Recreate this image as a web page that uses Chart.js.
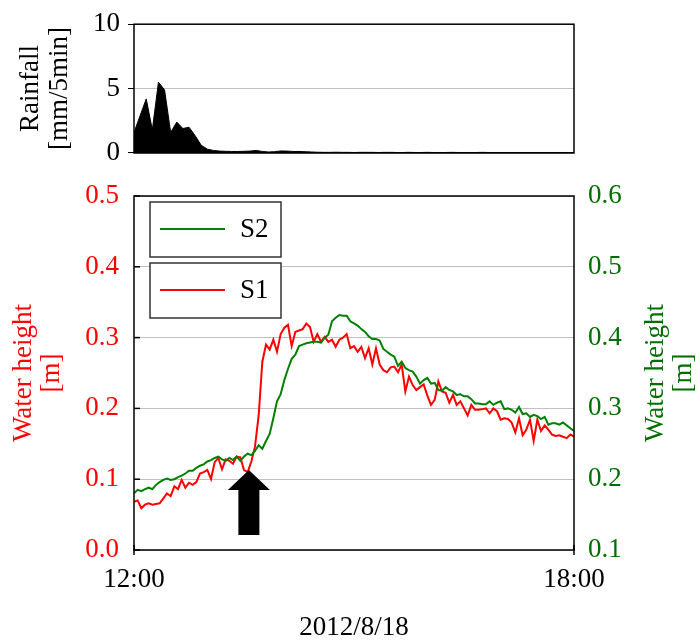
<!DOCTYPE html>
<html>
<head>
<meta charset="utf-8">
<script src="https://cdn.jsdelivr.net/npm/chart.js@4.4.1/dist/chart.umd.min.js"></script>
<style>
  html, body { margin: 0; padding: 0; background: #fff; }
  #wrap { position: relative; width: 700px; height: 644px; }
  #wrap canvas { position: absolute; left: 0; top: 0; }
</style>
</head>
<body>
<div id="wrap">
  <canvas id="rainChart" width="700" height="644"></canvas>
  <canvas id="levelChart" width="700" height="644"></canvas>
</div>
<script>
// rainfall, one value every 5 minutes from 12:00 [mm/5min]
const rainStep = 5;
const rainfall = [
  1.6, 2.9, 4.2, 1.8, 5.5, 4.9, 1.6, 2.4, 1.9, 2.0,
  1.35, 0.6, 0.3, 0.2, 0.15, 0.13, 0.12, 0.12, 0.13, 0.15,
  0.2, 0.12, 0.08, 0.1, 0.16, 0.15, 0.12, 0.12, 0.1, 0.08,
  0.06, 0.05, 0.05, 0.06, 0.05, 0.05, 0.04, 0.05, 0.05, 0.05,
  0.04, 0.05, 0.05, 0.04, 0.04, 0.05, 0.04, 0.04, 0.05, 0.04,
  0.04, 0.04, 0.05, 0.04, 0.04, 0.04, 0.04, 0.05, 0.04, 0.04,
  0.04, 0.04, 0.04, 0.04, 0.04, 0.04, 0.04, 0.04, 0.04, 0.04,
  0.04, 0.04, 0.04
];

// water height, one value every 3 minutes from 12:00 [m]
const levelStep = 3;
const s1 = [
  0.068, 0.070, 0.059, 0.064, 0.066, 0.064, 0.065, 0.066, 0.073, 0.080,
  0.076, 0.090, 0.086, 0.099, 0.088, 0.095, 0.092, 0.096, 0.108, 0.110,
  0.113, 0.100, 0.124, 0.130, 0.114, 0.128, 0.126, 0.122, 0.132, 0.131,
  0.113, 0.110, 0.125, 0.146, 0.190, 0.266, 0.290, 0.283, 0.297, 0.280,
  0.305, 0.314, 0.318, 0.288, 0.308, 0.310, 0.312, 0.320, 0.315, 0.294,
  0.305, 0.294, 0.301, 0.294, 0.297, 0.287, 0.297, 0.300, 0.305, 0.285,
  0.288, 0.280, 0.287, 0.271, 0.285, 0.262, 0.285, 0.262, 0.254, 0.251,
  0.258, 0.259, 0.251, 0.262, 0.224, 0.245, 0.233, 0.226, 0.230, 0.234,
  0.218, 0.205, 0.212, 0.238, 0.224, 0.222, 0.208, 0.219, 0.205, 0.210,
  0.200, 0.190, 0.205, 0.198, 0.198, 0.199, 0.200, 0.193, 0.200, 0.196,
  0.184, 0.186, 0.185, 0.180, 0.166, 0.186, 0.162, 0.170, 0.184, 0.154,
  0.184, 0.168, 0.176, 0.170, 0.163, 0.161, 0.162, 0.160, 0.158, 0.163,
  0.160
];
const s2 = [
  0.180, 0.185, 0.183, 0.186, 0.188, 0.186, 0.192, 0.196, 0.199, 0.201,
  0.199, 0.200, 0.203, 0.205, 0.208, 0.212, 0.212, 0.216, 0.219, 0.221,
  0.225, 0.227, 0.230, 0.232, 0.228, 0.226, 0.230, 0.227, 0.232, 0.226,
  0.232, 0.236, 0.234, 0.240, 0.248, 0.243, 0.254, 0.264, 0.286, 0.310,
  0.320, 0.340, 0.356, 0.370, 0.376, 0.388, 0.390, 0.392, 0.393, 0.394,
  0.394, 0.393, 0.400, 0.404, 0.423, 0.428, 0.432, 0.431, 0.431, 0.423,
  0.420, 0.417, 0.412, 0.408, 0.402, 0.398, 0.398, 0.396, 0.384, 0.380,
  0.376, 0.373, 0.360, 0.366, 0.357, 0.354, 0.352, 0.345, 0.335, 0.340,
  0.343, 0.335, 0.336, 0.326, 0.325, 0.330, 0.326, 0.324, 0.319, 0.320,
  0.317, 0.317, 0.313, 0.307, 0.307, 0.306, 0.306, 0.310, 0.305, 0.308,
  0.310, 0.299, 0.300, 0.298, 0.294, 0.302, 0.292, 0.293, 0.288, 0.291,
  0.289, 0.285, 0.288, 0.277, 0.279, 0.279, 0.277, 0.280, 0.276, 0.272,
  0.268
];

// axis labels
const timeLabels = ['12:00', '18:00'];
const dateLabel = '2012/8/18';
const seriesNames = ['S1', 'S2'];

// arrow position (minutes after 12:00, S1 height)
const arrowTime = 94;
const arrowLevel = 0.113;

const RED = '#ff0000';
const GREEN = '#008000';
const GREEN_TEXT = '#006e00';
const GRID = '#c0c0c0';
const FONT = '"Liberation Serif", "Times New Roman", serif';

Chart.defaults.font.family = FONT;
Chart.defaults.font.size = 27;
Chart.defaults.color = '#000';

function toPoints(values, step) {
  return values.map((v, i) => ({ x: i * step, y: v }));
}

// rotated text (reads bottom to top), centred on yc
function drawVText(ctx, text, x, yc, color) {
  ctx.save();
  ctx.translate(x, yc);
  ctx.rotate(-Math.PI / 2);
  ctx.fillStyle = color;
  ctx.font = '27px ' + FONT;
  ctx.textAlign = 'center';
  ctx.textBaseline = 'middle';
  ctx.fillText(text, 0, 0);
  ctx.restore();
}

function frame(ctx, a) {
  ctx.save();
  ctx.strokeStyle = '#000';
  ctx.lineWidth = 1.5;
  ctx.strokeRect(a.left, a.top, a.right - a.left, a.bottom - a.top);
  ctx.restore();
}

// ---------- rainfall panel ----------
const rainDecor = {
  id: 'rainDecor',
  afterDatasetsDraw(chart) {
    frame(chart.ctx, chart.chartArea);
  },
  afterDraw(chart) {
    const yc = (chart.chartArea.top + chart.chartArea.bottom) / 2;
    drawVText(chart.ctx, 'Rainfall', 31, yc, '#000');
    drawVText(chart.ctx, '[mm/5min]', 60, yc, '#000');
  }
};

new Chart(document.getElementById('rainChart'), {
  type: 'line',
  data: {
    datasets: [{
      data: toPoints(rainfall, rainStep),
      borderColor: '#000',
      backgroundColor: '#000',
      borderWidth: 1,
      fill: 'origin',
      pointRadius: 0,
      tension: 0
    }]
  },
  options: {
    responsive: false,
    animation: false,
    layout: { padding: { top: 20, right: 126, bottom: 491, left: 0 } },
    plugins: { legend: { display: false }, tooltip: { enabled: false } },
    scales: {
      x: { type: 'linear', min: 0, max: 360, display: false },
      y: {
        min: 0, max: 10,
        ticks: { stepSize: 5, padding: 8, color: '#000' },
        grid: { color: GRID, tickColor: '#000', tickLength: 6 },
        border: { display: false },
        afterFit(scale) { scale.width = 134; }
      }
    }
  },
  plugins: [rainDecor]
});

// ---------- water height panel ----------
const levelDecor = {
  id: 'levelDecor',
  afterDatasetsDraw(chart) {
    const ctx = chart.ctx;
    const a = chart.chartArea;
    const y = chart.scales.y;
    const x = chart.scales.x;
    frame(ctx, a);

    // short inward ticks on the left axis
    ctx.save();
    ctx.strokeStyle = '#000';
    ctx.lineWidth = 1.5;
    y.ticks.forEach(t => {
      const py = y.getPixelForValue(t.value);
      ctx.beginPath();
      ctx.moveTo(a.left, py);
      ctx.lineTo(a.left + 6, py);
      ctx.stroke();
    });
    // tick marks at both ends of the time axis
    [0, 360].forEach(v => {
      const px = x.getPixelForValue(v);
      ctx.beginPath();
      ctx.moveTo(px, a.bottom - 5);
      ctx.lineTo(px, a.bottom + 5);
      ctx.stroke();
    });
    ctx.restore();

    // legend: two separate boxes, S2 above S1
    const boxes = [
      { name: seriesNames[1], color: GREEN, top: 202 },
      { name: seriesNames[0], color: RED, top: 263 }
    ];
    ctx.save();
    boxes.forEach(b => {
      ctx.fillStyle = '#fff';
      ctx.fillRect(150, b.top, 131, 55);
      ctx.strokeStyle = '#333';
      ctx.lineWidth = 1.5;
      ctx.strokeRect(150, b.top, 131, 55);
      ctx.strokeStyle = b.color;
      ctx.lineWidth = 2;
      ctx.beginPath();
      ctx.moveTo(160, b.top + 27);
      ctx.lineTo(225, b.top + 27);
      ctx.stroke();
      ctx.fillStyle = '#000';
      ctx.font = '27px ' + FONT;
      ctx.textAlign = 'left';
      ctx.textBaseline = 'middle';
      ctx.fillText(b.name, 240, b.top + 28);
    });
    ctx.restore();

    // black block arrow pointing up at the rise of S1
    const tx = x.getPixelForValue(arrowTime);
    const ty = y.getPixelForValue(arrowLevel);
    ctx.save();
    ctx.fillStyle = '#000';
    ctx.beginPath();
    ctx.moveTo(tx, ty);
    ctx.lineTo(tx + 21, ty + 20);
    ctx.lineTo(tx + 10.5, ty + 20);
    ctx.lineTo(tx + 10.5, ty + 65);
    ctx.lineTo(tx - 10.5, ty + 65);
    ctx.lineTo(tx - 10.5, ty + 20);
    ctx.lineTo(tx - 21, ty + 20);
    ctx.closePath();
    ctx.fill();
    ctx.restore();
  },
  afterDraw(chart) {
    const ctx = chart.ctx;
    const a = chart.chartArea;
    const yc = (a.top + a.bottom) / 2;
    drawVText(ctx, 'Water height', 24, yc, RED);
    drawVText(ctx, '[m]', 52, yc, RED);
    drawVText(ctx, 'Water height', 656, yc, GREEN_TEXT);
    drawVText(ctx, '[m]', 684, yc, GREEN_TEXT);
    ctx.save();
    ctx.fillStyle = '#000';
    ctx.font = '27px ' + FONT;
    ctx.textAlign = 'center';
    ctx.textBaseline = 'middle';
    ctx.fillText(dateLabel, (a.left + a.right) / 2, 628);
    ctx.restore();
  }
};

new Chart(document.getElementById('levelChart'), {
  type: 'line',
  data: {
    datasets: [
      {
        label: seriesNames[1],
        data: toPoints(s2, levelStep),
        yAxisID: 'y2',
        borderColor: GREEN,
        borderWidth: 2,
        pointRadius: 0,
        tension: 0
      },
      {
        label: seriesNames[0],
        data: toPoints(s1, levelStep),
        yAxisID: 'y',
        borderColor: RED,
        borderWidth: 2,
        pointRadius: 0,
        tension: 0
      }
    ]
  },
  options: {
    responsive: false,
    animation: false,
    layout: { padding: { top: 196, right: 0, bottom: 0, left: 0 } },
    plugins: { legend: { display: false }, tooltip: { enabled: false } },
    scales: {
      x: {
        type: 'linear', min: 0, max: 360,
        afterBuildTicks(scale) { scale.ticks = [{ value: 0 }, { value: 360 }]; },
        ticks: {
          autoSkip: false, maxRotation: 0, padding: 14, color: '#000',
          callback: (v, i) => timeLabels[i]
        },
        grid: { display: false, drawTicks: false },
        border: { display: false },
        afterFit(scale) { scale.height = 94; }
      },
      y: {
        position: 'left',
        min: 0, max: 0.5,
        ticks: { stepSize: 0.1, padding: 15, color: RED, callback: v => v.toFixed(1) },
        grid: { color: GRID, drawTicks: false },
        border: { display: false },
        afterFit(scale) { scale.width = 134; }
      },
      y2: {
        position: 'right',
        min: 0.1, max: 0.6,
        ticks: { stepSize: 0.1, padding: 14, color: GREEN_TEXT, callback: v => v.toFixed(1) },
        grid: { display: false, drawTicks: false },
        border: { display: false },
        afterFit(scale) { scale.width = 126; }
      }
    }
  },
  plugins: [levelDecor]
});
</script>
</body>
</html>
